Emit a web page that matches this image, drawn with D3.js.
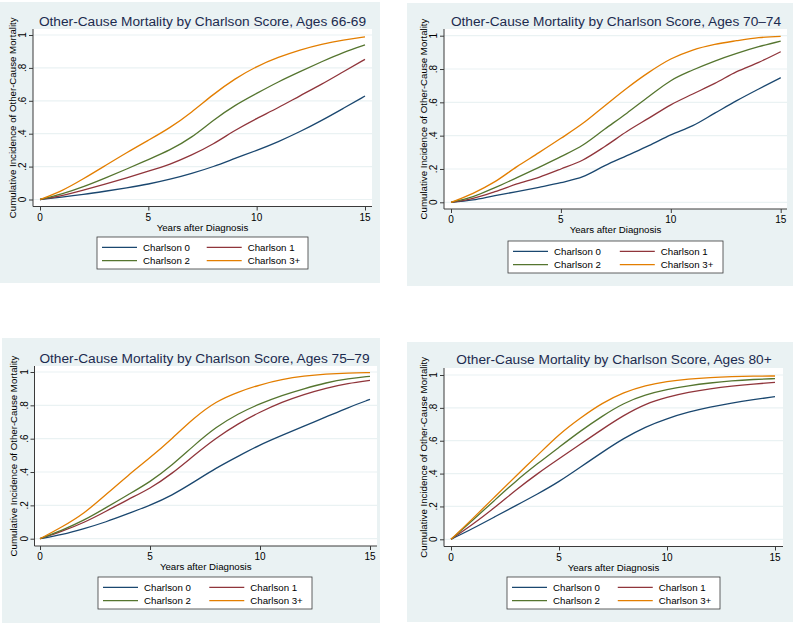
<!DOCTYPE html>
<html><head><meta charset="utf-8">
<script src="https://cdn.jsdelivr.net/npm/d3@7"></script>
<style>
body{margin:0;background:#fff;}
text{font-family:"Liberation Sans",Arial,Helvetica,sans-serif;}
</style>
</head><body>
<svg id="chart" width="800" height="625"></svg>
<script>
// ---------- data ----------
const years = [0,1,2,3,4,5,6,7,8,9,10,11,12,13,14,15];
const seriesNames = ["Charlson 0","Charlson 1","Charlson 2","Charlson 3+"];
const panelTitles = [
  "Other-Cause Mortality by Charlson Score, Ages 66-69",
  "Other-Cause Mortality by Charlson Score, Ages 70\u201374",
  "Other-Cause Mortality by Charlson Score, Ages 75\u201379",
  "Other-Cause Mortality by Charlson Score, Ages 80+"
];
const xTicks = [0,5,10,15];
const yTicks = [0,0.2,0.4,0.6,0.8,1];
const yTickLabels = ["0",".2",".4",".6",".8","1"];
const xAxisTitle = "Years after Diagnosis";
const yAxisTitle = "Cumulative Incidence of Other-Cause Mortality";

// Ages 66-69
const a66_c0 = [0,0.014,0.030,0.050,0.071,0.093,0.122,0.158,0.199,0.250,0.298,0.351,0.412,0.480,0.554,0.629];
const a66_c1 = [0,0.022,0.057,0.093,0.132,0.172,0.213,0.270,0.335,0.422,0.493,0.558,0.631,0.700,0.777,0.852];
const a66_c2 = [0,0.032,0.077,0.130,0.185,0.243,0.300,0.375,0.483,0.574,0.645,0.716,0.777,0.838,0.895,0.940];
const a66_c3 = [0,0.050,0.125,0.205,0.285,0.360,0.435,0.530,0.640,0.735,0.810,0.865,0.910,0.945,0.970,0.988];
// Ages 70-74
const a70_c0 = [0,0.014,0.040,0.064,0.090,0.118,0.154,0.220,0.280,0.340,0.405,0.460,0.535,0.610,0.680,0.748];
const a70_c1 = [0,0.024,0.064,0.110,0.150,0.200,0.254,0.335,0.425,0.505,0.585,0.650,0.714,0.784,0.840,0.904];
const a70_c2 = [0,0.034,0.088,0.148,0.210,0.274,0.344,0.440,0.535,0.635,0.730,0.794,0.848,0.894,0.934,0.968];
const a70_c3 = [0,0.054,0.124,0.214,0.298,0.384,0.474,0.580,0.685,0.780,0.860,0.914,0.948,0.970,0.988,0.996];
// Ages 75-79
const a75_c0 = [0,0.024,0.060,0.100,0.150,0.200,0.260,0.340,0.424,0.494,0.564,0.620,0.676,0.730,0.786,0.836];
const a75_c1 = [0,0.044,0.096,0.164,0.236,0.300,0.390,0.500,0.604,0.690,0.760,0.820,0.866,0.904,0.932,0.950];
const a75_c2 = [0,0.050,0.110,0.186,0.264,0.340,0.440,0.560,0.670,0.750,0.810,0.860,0.900,0.936,0.960,0.974];
const a75_c3 = [0,0.070,0.150,0.265,0.380,0.485,0.600,0.725,0.824,0.880,0.924,0.956,0.976,0.988,0.994,0.996];
// Ages 80+
const a80_c0 = [0,0.065,0.135,0.205,0.275,0.350,0.440,0.530,0.615,0.685,0.735,0.775,0.805,0.830,0.850,0.868];
const a80_c1 = [0,0.090,0.190,0.300,0.400,0.490,0.580,0.670,0.755,0.825,0.865,0.895,0.917,0.933,0.945,0.955];
const a80_c2 = [0,0.115,0.235,0.355,0.460,0.560,0.660,0.750,0.830,0.880,0.912,0.935,0.952,0.965,0.973,0.978];
const a80_c3 = [0,0.125,0.255,0.385,0.510,0.640,0.740,0.830,0.895,0.937,0.962,0.976,0.985,0.990,0.993,0.994];

const panelSeries = [
  [a66_c0,a66_c1,a66_c2,a66_c3],
  [a70_c0,a70_c1,a70_c2,a70_c3],
  [a75_c0,a75_c1,a75_c2,a75_c3],
  [a80_c0,a80_c1,a80_c2,a80_c3]
];

// ---------- styles / layout ----------
const colors = ["#1a476f","#90353b","#55752f","#e37e00"];
const bgColor = "#eaf2f3";
const gridColor = "#eaf2f3";
const titleColor = "#1c2b4f";
const axisColor = "#3a3a3a";

const layouts = [
  {bg:[0,2,380,281],   plot:[33,29,372,206.5],  x:[40,365],    y:[199.5,35],  titleX:202.5, titleY:25.5, legend:[97,237,211,32]},
  {bg:[407,3,386,283], plot:[444,29,787,209],   x:[451,780.7], y:[202.3,35.7],titleX:616,   titleY:26,   legend:[508,241,215,32]},
  {bg:[2,338,378,285], plot:[34.5,366,377,546], x:[40,370],    y:[538.7,372], titleX:204.5, titleY:362.5,legend:[98,577,214,32]},
  {bg:[407,342,386,280],plot:[444,368,783,546.5],x:[451,775],  y:[539.3,375], titleX:614,   titleY:364,  legend:[507,577,213,32]}
];

const svg = d3.select("#chart");
svg.append("rect").attr("width",800).attr("height",625).attr("fill","#fff");

layouts.forEach((L, pi) => {
  const g = svg.append("g");
  g.append("rect").attr("x",L.bg[0]).attr("y",L.bg[1]).attr("width",L.bg[2]).attr("height",L.bg[3]).attr("fill",bgColor);
  const [px0,py0,px1,py1] = L.plot;
  g.append("rect").attr("x",px0).attr("y",py0).attr("width",px1-px0).attr("height",py1-py0).attr("fill","#fff");

  const x = d3.scaleLinear().domain([0,15]).range(L.x);
  const y = d3.scaleLinear().domain([0,1]).range(L.y);

  g.selectAll(".grid").data(yTicks).join("line")
    .attr("x1",px0).attr("x2",px1)
    .attr("y1",d=>y(d)).attr("y2",d=>y(d))
    .attr("stroke",gridColor).attr("stroke-width",1.2);

  const yAxis = d3.axisLeft(y).tickValues(yTicks).tickSize(4).tickFormat("");
  const ya = g.append("g").attr("transform",`translate(${px0},0)`).call(yAxis);
  ya.select(".domain").attr("d",`M0,${py0}V${py1}`).attr("stroke",axisColor);
  ya.selectAll(".tick line").attr("stroke",axisColor);
  g.selectAll(".ylab").data(yTicks).join("text")
    .attr("transform",(d)=>`translate(${px0-7},${y(d)}) rotate(-90)`)
    .attr("text-anchor","middle").attr("font-size",10).attr("fill","#000")
    .text((d,i)=>yTickLabels[i]);

  const xAxis = d3.axisBottom(x).tickValues(xTicks).tickSize(4).tickFormat("");
  const xa = g.append("g").attr("transform",`translate(0,${py1})`).call(xAxis);
  xa.select(".domain").attr("d",`M${px0},0H${px1}`).attr("stroke",axisColor);
  xa.selectAll(".tick line").attr("stroke",axisColor);
  g.selectAll(".xlab").data(xTicks).join("text")
    .attr("x",d=>x(d)).attr("y",py1+14)
    .attr("text-anchor","middle").attr("font-size",10).attr("fill","#000")
    .text(d=>d);

  const cx = (px0+px1)/2, cy = (py0+py1)/2;
  g.append("text").attr("x",cx).attr("y",py1+24).attr("text-anchor","middle")
    .attr("font-size",9.7).attr("fill","#000").text(xAxisTitle);
  g.append("text").attr("transform",`translate(${px0-17.5},${cy}) rotate(-90)`)
    .attr("text-anchor","middle").attr("font-size",9.7).attr("fill","#000").text(yAxisTitle);

  g.append("text").attr("x",L.titleX).attr("y",L.titleY).attr("text-anchor","middle")
    .attr("font-size",13.7).attr("fill",titleColor).text(panelTitles[pi]);

  const line = d3.line().x((d,i)=>x(years[i])).y(d=>y(d))
    .curve(pi===1 ? d3.curveMonotoneX : d3.curveBasis);
  panelSeries[pi].forEach((s,si)=>{
    g.append("path").datum(s).attr("d",line).attr("fill","none")
      .attr("stroke",colors[si]).attr("stroke-width",1.3);
  });

  const [lx,ly,lw,lh] = L.legend;
  const lg = g.append("g");
  lg.append("rect").attr("x",lx).attr("y",ly).attr("width",lw).attr("height",lh)
    .attr("fill","#fff").attr("stroke",axisColor).attr("stroke-width",0.8);
  seriesNames.forEach((name,si)=>{
    const col = si%2, row = Math.floor(si/2);
    const x0 = lx + (col===0 ? 5 : lw*0.52);
    const yy = ly + (row===0 ? 10.3 : 23.7);
    lg.append("line").attr("x1",x0).attr("x2",x0+35).attr("y1",yy).attr("y2",yy)
      .attr("stroke",colors[si]).attr("stroke-width",1.3);
    lg.append("text").attr("x",x0+41).attr("y",yy+3.5).attr("font-size",9.7).attr("fill","#000").text(name);
  });
});
</script>
</body></html>
